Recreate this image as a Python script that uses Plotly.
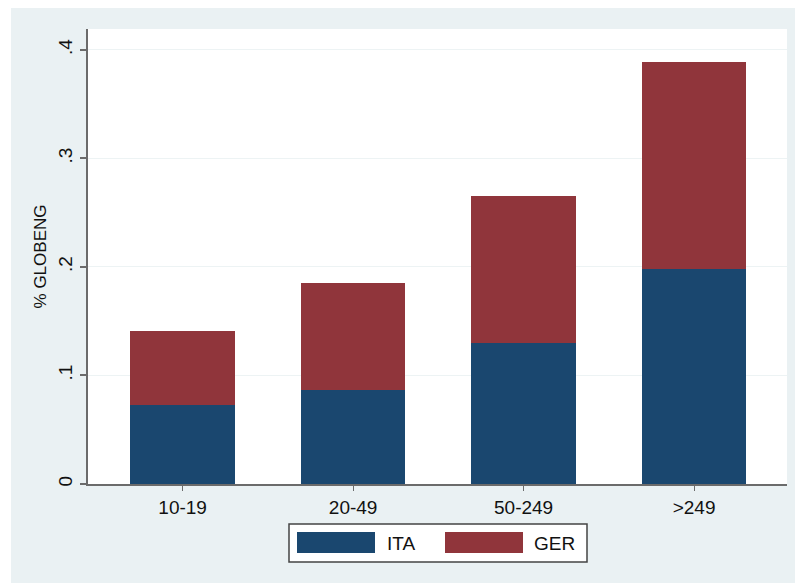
import plotly.graph_objects as go

# Firm size classes and share of globally engaged firms, stacked by country
size_classes = ["10-19", "20-49", "50-249", ">249"]
ita_share = [0.0726, 0.0864, 0.1297, 0.1977]
ger_share = [0.0681, 0.0984, 0.1360, 0.1913]

y_tick_vals = [0, 0.1, 0.2, 0.3, 0.4]
y_tick_text = ["0", ".1", ".2", ".3", ".4"]

NAVY = "#1a476f"
MAROON = "#90353b"
BG = "#eaf1f3"
AXIS = "#6b6b6b"
FONT = "Liberation Sans, Arial, sans-serif"

W, H = 795, 583
L, R, T, B = 88, 8, 29, 99
PW, PH = W - L - R, H - T - B


def px(x):
    return (x - L) / PW


def py(y):
    return (H - B - y) / PH


fig = go.Figure()
fig.add_trace(go.Bar(x=size_classes, y=ita_share, name="ITA",
                     marker=dict(color=NAVY, line=dict(width=0)), showlegend=False))
fig.add_trace(go.Bar(x=size_classes, y=ger_share, name="GER",
                     marker=dict(color=MAROON, line=dict(width=0)), showlegend=False))

shapes = [
    # outer graph region
    dict(type="rect", xref="paper", yref="paper", layer="below",
         x0=px(11), x1=px(W + 2), y0=py(H + 2), y1=py(8),
         fillcolor=BG, line=dict(width=0)),
    # plot region
    dict(type="rect", xref="paper", yref="paper", layer="below",
         x0=0, x1=1, y0=0, y1=1, fillcolor="white", line=dict(width=0)),
    # legend box
    dict(type="rect", xref="paper", yref="paper",
         x0=px(289), x1=px(587), y0=py(562), y1=py(524),
         fillcolor="white", line=dict(color="#444444", width=1.5)),
    dict(type="rect", xref="paper", yref="paper",
         x0=px(297), x1=px(375), y0=py(553), y1=py(532),
         fillcolor=NAVY, line=dict(width=0)),
    dict(type="rect", xref="paper", yref="paper",
         x0=px(445), x1=px(523), y0=py(553), y1=py(532),
         fillcolor=MAROON, line=dict(width=0)),
]

annotations = [
    dict(text="ITA", xref="paper", yref="paper", x=px(385), y=py(543),
         xanchor="left", yanchor="middle", showarrow=False,
         font=dict(family=FONT, size=19, color="#111111")),
    dict(text="GER", xref="paper", yref="paper", x=px(532), y=py(543),
         xanchor="left", yanchor="middle", showarrow=False,
         font=dict(family=FONT, size=19, color="#111111")),
]

fig.update_layout(
    width=W, height=H,
    margin=dict(l=L, r=R, t=T, b=B),
    barmode="stack",
    bargap=0.386,
    paper_bgcolor="white",
    plot_bgcolor="rgba(0,0,0,0)",
    font=dict(family=FONT, size=19, color="#111111"),
    shapes=shapes,
    annotations=annotations,
    showlegend=False,
    xaxis=dict(
        range=[-0.555, 3.545],
        showline=True, linecolor=AXIS, linewidth=2,
        ticks="outside", ticklen=5, tickcolor=AXIS, tickwidth=1,
        showgrid=False, zeroline=False,
        tickfont=dict(family=FONT, size=19, color="#111111"),
    ),
    yaxis=dict(
        range=[0, 0.4193],
        tickvals=y_tick_vals, ticktext=y_tick_text,
        tickangle=-90,
        showline=True, linecolor=AXIS, linewidth=2,
        ticks="outside", ticklen=6, tickcolor=AXIS, tickwidth=1.5,
        showgrid=True, gridcolor="#edf3f4", gridwidth=1,
        zeroline=False,
        tickfont=dict(family=FONT, size=19, color="#111111"),
        title=dict(text="% GLOBENG", standoff=4,
                   font=dict(family=FONT, size=17, color="#111111")),
    ),
)

fig.write_html("out.html")
